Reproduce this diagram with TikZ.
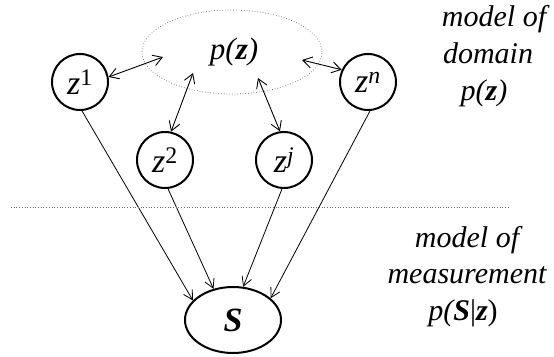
\documentclass[tikz,border=0pt]{standalone}
\usepackage{fontspec}
\setmainfont{Liberation Serif}
\newfontfamily\figfont{Liberation Serif}
\usetikzlibrary{arrows.meta,shapes.geometric}
\begin{document}
\begin{tikzpicture}[x=1pt,y=-1pt,
  every node/.style={font=\figfont\fontsize{30}{34}\selectfont\itshape},
  var/.style={circle,draw,line width=2pt,minimum size=56pt,inner sep=0pt,font=\figfont\fontsize{34}{38}\selectfont\itshape},
  obs/.style={ellipse,draw,line width=2pt,minimum width=96pt,minimum height=66pt,inner sep=0pt,font=\figfont\fontsize{34}{38}\selectfont\itshape},
  prior/.style={ellipse,draw,dotted,line width=0.7pt,gray!80!black,text=black,minimum width=180pt,minimum height=84pt,inner sep=0pt,font=\figfont\fontsize{31}{36}\selectfont\itshape},
  sep/.style={dotted,line width=0.7pt,gray!80!black},
  bi/.style={{Straight Barb[length=9pt,width=11pt]}-{Straight Barb[length=9pt,width=11pt]},line width=0.9pt},
  dep/.style={-{Straight Barb[length=9pt,width=10pt]},line width=0.8pt},
  lbl/.style={anchor=base,inner sep=0pt}]
\useasboundingbox (0,0) rectangle (554,356);
\node[prior] (pz) at (232,52) {$\,$\textit{p}(\textbf{\textit{z}})};
\node[var] (z1) at (80,82) {\textit{z}\textsuperscript{\upshape 1}};
\node[var] (z2) at (165,160) {\textit{z}\textsuperscript{\upshape 2}};
\node[var] (zj) at (284,160) {\textit{z}\textsuperscript{\itshape j}};
\node[var] (zn) at (368,82) {\textit{z}\textsuperscript{\itshape n}};
\node[obs] (S) at (233,320) {\textbf{\textit{S}}};
\coordinate (a1) at (163,57);
\coordinate (a2) at (193,73);
\coordinate (aj) at (258,78);
\coordinate (an) at (302,60);
\draw[bi] (z1.10) -- (a1);
\draw[bi] (z2.78) -- (a2);
\draw[bi] (zj.98) -- (aj);
\draw[bi] (zn.155) -- (an);
\draw[dep] (z1.-86) -- (S.154);
\draw[dep] (z2.-84) -- (S.122);
\draw[dep] (zj.-94) -- (S.73);
\draw[dep] (zn.-86) -- (S.30);
\coordinate (l1) at (11,207);
\coordinate (l2) at (508,207);
\draw[sep] (l1) -- (l2);
\node[lbl] (t1) at (494,27) {model of};
\node[lbl] (t2) at (488,63) {domain};
\node[lbl] (t3) at (484,100) {\textit{p}(\textbf{\textit{z}})};
\node[lbl] (b1) at (467,247) {model of};
\node[lbl] (b2) at (467,283) {measurement};
\node[lbl] (b3) at (463,320) {\textit{p}(\textbf{\textit{S}}\upshape|\textbf{\textit{z}})};
\end{tikzpicture}
\end{document}
